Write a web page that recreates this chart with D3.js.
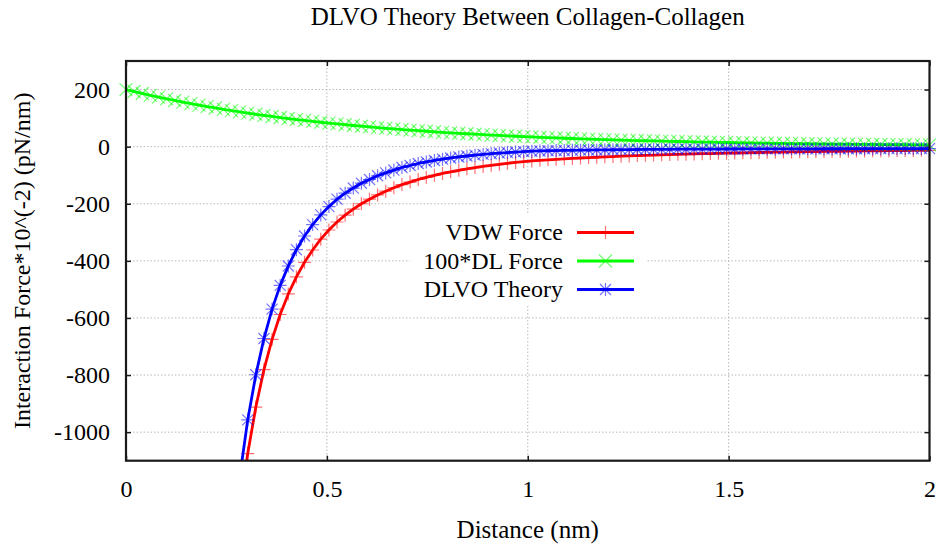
<!DOCTYPE html>
<html>
<head>
<meta charset="utf-8">
<script src="https://cdn.jsdelivr.net/npm/d3@7"></script>
<style>
  html, body { margin: 0; padding: 0; background: #fff; }
  svg { display: block; }
  svg text { font-family: "Liberation Serif", "Times New Roman", "DejaVu Serif", serif !important; fill: #000; }
</style>
</head>
<body>
<svg id="chart" width="940" height="548"></svg>
<script>
// ---- data ----
const title = "DLVO Theory Between Collagen-Collagen";
const xLabel = "Distance (nm)";
const yLabel = "Interaction Force*10^(-2) (pN/nm)";
const seriesNames = ["VDW Force", "100*DL Force", "DLVO Theory"];
const seriesColors = ["#ff0000", "#00ff00", "#0000ff"];
const xTicks = [0, 0.5, 1, 1.5, 2];
const xTickLabels = ["0", "0.5", "1", "1.5", "2"];
const yTicks = [200, 0, -200, -400, -600, -800, -1000];
const yTickLabels = ["200", "0", "-200", "-400", "-600", "-800", "-1000"];

const distance = [
  0, 0.0202, 0.0404, 0.0606, 0.0808, 0.1010, 0.1212, 0.1414, 0.1616, 0.1818,
  0.2020, 0.2222, 0.2424, 0.2626, 0.2828, 0.3030, 0.3232, 0.3434, 0.3636, 0.3838,
  0.4040, 0.4242, 0.4444, 0.4646, 0.4848, 0.5051, 0.5253, 0.5455, 0.5657, 0.5859,
  0.6061, 0.6263, 0.6465, 0.6667, 0.6869, 0.7071, 0.7273, 0.7475, 0.7677, 0.7879,
  0.8081, 0.8283, 0.8485, 0.8687, 0.8889, 0.9091, 0.9293, 0.9495, 0.9697, 0.9899,
  1.0101, 1.0303, 1.0505, 1.0707, 1.0909, 1.1111, 1.1313, 1.1515, 1.1717, 1.1919,
  1.2121, 1.2323, 1.2525, 1.2727, 1.2929, 1.3131, 1.3333, 1.3535, 1.3737, 1.3939,
  1.4141, 1.4343, 1.4545, 1.4747, 1.4949, 1.5152, 1.5354, 1.5556, 1.5758, 1.5960,
  1.6162, 1.6364, 1.6566, 1.6768, 1.6970, 1.7172, 1.7374, 1.7576, 1.7778, 1.7980,
  1.8182, 1.8384, 1.8586, 1.8788, 1.8990, 1.9192, 1.9394, 1.9596, 1.9798, 2.0000
];

const vdwForce = [
  null, null, null, null, null, null, null, null, null, null,
  null, null, null, -1549, -1282, -1075, -912, -781, -675, -588,
  -516, -456, -405, -362, -324, -292, -264, -240, -219, -200,
  -184, -169, -156, -144, -133, -124, -115, -107.5, -100.5, -94.0,
  -88.2, -82.8, -77.8, -73.3, -69.1, -65.3, -61.7, -58.4, -55.4, -52.5,
  -49.9, -47.9, -46.1, -44.4, -42.8, -41.2, -39.8, -38.4, -37.1, -35.8,
  -34.6, -33.5, -32.4, -31.4, -30.5, -29.5, -28.6, -27.8, -27.0, -26.2,
  -25.5, -24.7, -24.1, -23.4, -22.8, -22.2, -21.6, -21.0, -20.5, -20.0,
  -19.5, -19.0, -18.5, -18.1, -17.7, -17.3, -16.9, -16.5, -16.1, -15.7,
  -15.4, -15.1, -14.7, -14.4, -14.1, -13.8, -13.5, -13.3, -13.0, -12.7
];

const dlForce100 = [
  200, 193.04, 186.31, 179.83, 173.57, 167.52, 161.69, 156.06, 150.63, 145.38,
  140.32, 135.43, 130.72, 126.17, 121.77, 117.53, 113.44, 109.49, 105.68, 102.00,
  98.45, 95.02, 91.71, 88.52, 85.43, 82.46, 79.59, 76.81, 74.14, 71.56,
  69.07, 66.66, 64.34, 62.10, 59.94, 57.85, 55.84, 53.89, 52.02, 50.21,
  48.46, 46.77, 45.14, 43.57, 42.05, 40.59, 39.17, 37.81, 36.49, 35.22,
  33.99, 32.81, 31.67, 30.56, 29.50, 28.47, 27.48, 26.52, 25.60, 24.71,
  23.85, 23.02, 22.21, 21.44, 20.69, 19.97, 19.28, 18.60, 17.96, 17.33,
  16.73, 16.15, 15.58, 15.04, 14.52, 14.01, 13.52, 13.05, 12.60, 12.16,
  11.74, 11.33, 10.93, 10.55, 10.19, 9.83, 9.49, 9.16, 8.84, 8.53,
  8.23, 7.95, 7.67, 7.40, 7.14, 6.89, 6.65, 6.42, 6.20, 5.98
];

const dlvoTheory = [
  null, null, null, null, null, null, null, null, null, null,
  null, null, null, -1423, -1160, -957, -799, -672, -569, -486,
  -418, -361, -313, -273, -239, -210, -184, -163, -145, -128,
  -115, -102, -92, -82, -73, -66, -59, -53.6, -48.5, -43.8,
  -39.7, -36.0, -32.7, -29.7, -27.1, -24.7, -22.5, -20.6, -18.9, -17.3,
  -15.9, -15.1, -14.4, -13.8, -13.3, -12.7, -12.3, -11.9, -11.5, -11.1,
  -10.8, -10.5, -10.2, -10.0, -9.8, -9.5, -9.3, -9.2, -9.0, -8.9,
  -8.8, -8.6, -8.5, -8.4, -8.3, -8.2, -8.1, -8.0, -7.9, -7.8,
  -7.8, -7.7, -7.6, -7.6, -7.5, -7.5, -7.4, -7.3, -7.3, -7.2,
  -7.2, -7.1, -7.0, -7.0, -7.0, -6.9, -6.9, -6.9, -6.8, -6.7
];

const seriesValues = [vdwForce, dlForce100, dlvoTheory];
const markerTypes = ["plus", "cross", "star"];

// ---- layout ----
const W = 940, H = 548;
const plotLeft = 126, plotRight = 929.5, plotTop = 61, plotBottom = 460.7;
const serif = '"Liberation Serif", "Times New Roman", "DejaVu Serif", serif';

const x = d3.scaleLinear().domain([0, 2]).range([plotLeft, plotRight]);
const y = d3.scaleLinear().domain([-1100, 300]).range([plotBottom, plotTop]);

const svg = d3.select("#chart");

// clip
svg.append("defs").append("clipPath").attr("id", "plotClip")
  .append("rect").attr("x", plotLeft).attr("y", plotTop)
  .attr("width", plotRight - plotLeft).attr("height", plotBottom - plotTop);

// grid
const grid = svg.append("g").attr("class", "grid")
  .attr("stroke", "#b8b8b8").attr("stroke-width", 1).attr("stroke-dasharray", "1.5,2");
grid.selectAll("line.gx").data(xTicks.filter(v => v > 0 && v < 2)).join("line")
  .attr("x1", d => x(d)).attr("x2", d => x(d))
  .attr("y1", plotTop).attr("y2", plotBottom);
grid.selectAll("line.gy").data(yTicks).join("line")
  .attr("x1", plotLeft).attr("x2", plotRight)
  .attr("y1", d => y(d)).attr("y2", d => y(d));

// axes
const tickLen = 5;
const fontSize = 24;
const axL = svg.append("g").attr("transform", `translate(${plotLeft},0)`)
  .call(d3.axisLeft(y).tickValues(yTicks).tickFormat((d, i) => yTickLabels[i])
    .tickSize(-tickLen).tickPadding(16));
const axB = svg.append("g").attr("transform", `translate(0,${plotBottom})`)
  .call(d3.axisBottom(x).tickValues(xTicks).tickFormat((d, i) => xTickLabels[i])
    .tickSize(-tickLen).tickPadding(19));
const axT = svg.append("g").attr("transform", `translate(0,${plotTop})`)
  .call(d3.axisTop(x).tickValues(xTicks).tickFormat("").tickSize(-tickLen));
const axR = svg.append("g").attr("transform", `translate(${plotRight},0)`)
  .call(d3.axisRight(y).tickValues(yTicks).tickFormat("").tickSize(-tickLen));
[axL, axB, axT, axR].forEach(g => {
  g.select(".domain").remove();
  g.attr("font-family", serif).attr("font-size", fontSize);
  g.selectAll("line").attr("stroke", "#1a1a1a").attr("stroke-width", 1.5);
  g.selectAll("text").style("font-family", serif).style("font-size", fontSize + "px").attr("fill", "#000");
});

// legend background (opaque key)
const legendX = 410, legendY = 213, legendW = 236, legendH = 92;
svg.append("rect").attr("x", legendX).attr("y", legendY)
  .attr("width", legendW).attr("height", legendH).attr("fill", "#fff");

// marker drawing
function drawMarker(g, type, cx, cy, color, s) {
  const p = g.append("path")
    .attr("stroke", color).attr("stroke-width", 1.2).attr("fill", "none")
    .attr("stroke-opacity", 0.55);
  let d = "";
  if (type === "plus" || type === "star") {
    d += `M${cx - s},${cy}H${cx + s}M${cx},${cy - s}V${cy + s}`;
  }
  if (type === "cross" || type === "star") {
    const c = type === "star" ? s * 0.85 : s;
    d += `M${cx - c},${cy - c}L${cx + c},${cy + c}M${cx - c},${cy + c}L${cx + c},${cy - c}`;
  }
  p.attr("d", d);
}

const markerSize = 6.5;
const linesG = svg.append("g");
seriesValues.forEach((vals, si) => {
  const pts = distance.map((d, i) => [d, vals[i]]);
  const line = d3.line()
    .defined(p => p[1] !== null)
    .x(p => x(p[0])).y(p => y(p[1]));
  linesG.append("path").datum(pts)
    .attr("clip-path", "url(#plotClip)")
    .attr("d", line)
    .attr("fill", "none").attr("stroke", seriesColors[si])
    .attr("stroke-width", 2.8).attr("stroke-linejoin", "round");
  const mg = linesG.append("g");
  pts.filter(p => p[1] !== null && p[1] >= -1100 && p[1] <= 300)
    .forEach(p => drawMarker(mg, markerTypes[si], x(p[0]), y(p[1]), seriesColors[si], markerSize));
});

// border
svg.append("rect").attr("x", plotLeft).attr("y", plotTop)
  .attr("width", plotRight - plotLeft).attr("height", plotBottom - plotTop)
  .attr("fill", "none").attr("stroke", "#1a1a1a").attr("stroke-width", 2.2);

// legend entries
const legendTextRight = 563;
const legendBaselines = [240, 268.5, 297];
seriesNames.forEach((name, i) => {
  const by = legendBaselines[i];
  svg.append("text").attr("x", legendTextRight).attr("y", by)
    .attr("text-anchor", "end").style("font-family", serif)
    .style("font-size", fontSize + "px").text(name);
  const ly = by - 7.5;
  svg.append("line").attr("x1", 577).attr("x2", 634).attr("y1", ly).attr("y2", ly)
    .attr("stroke", seriesColors[i]).attr("stroke-width", 2.8);
  drawMarker(svg, markerTypes[i], 605.5, ly, seriesColors[i], markerSize);
});

// title and axis labels
svg.append("text").attr("x", (plotLeft + plotRight) / 2).attr("y", 25)
  .attr("text-anchor", "middle").style("font-family", serif).style("font-size", "25px").text(title);
svg.append("text").attr("x", (plotLeft + plotRight) / 2).attr("y", 538)
  .attr("text-anchor", "middle").style("font-family", serif).style("font-size", "25px").text(xLabel);
svg.append("text")
  .attr("transform", `translate(30,${(plotTop + plotBottom) / 2}) rotate(-90)`)
  .attr("text-anchor", "middle").style("font-family", serif).style("font-size", "24px").text(yLabel);
</script>
</body>
</html>
